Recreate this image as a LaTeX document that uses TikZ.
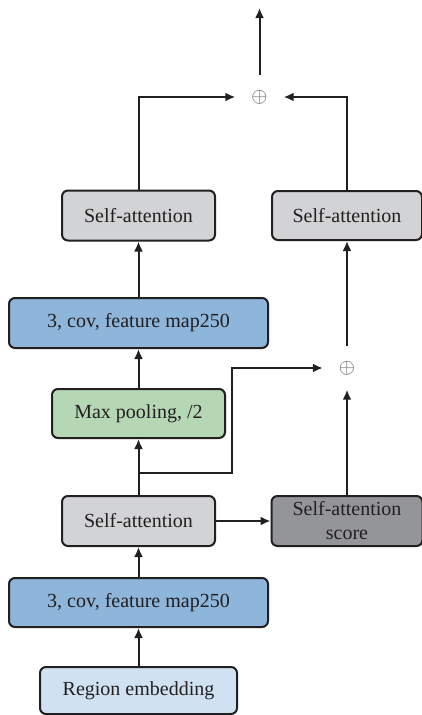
\documentclass[tikz,border=0pt]{standalone}
\usepackage{fontspec}
\setmainfont{Liberation Serif}
\usetikzlibrary{arrows.meta}
\definecolor{ink}{HTML}{231F20}
\definecolor{lgray}{HTML}{D1D3D4}
\definecolor{dgray}{HTML}{939598}
\definecolor{mblue}{HTML}{8DB6DA}
\definecolor{lblue}{HTML}{D0E2F1}
\definecolor{lgreen}{HTML}{B6D7B3}
\begin{document}
\begin{tikzpicture}[x=1pt,y=-1pt,
  blk/.style={draw=ink, line width=2pt, rounded corners=6pt, text=ink,
    font=\fontsize{20}{24}\selectfont, inner sep=0pt, align=center},
  arr/.style={draw=ink, line width=2pt, -{Latex[length=10pt,width=9pt]}},
  plus/.style={inner sep=0pt, minimum width=48pt, minimum height=43pt,
    text=ink!75, font=\fontsize{21}{21}\selectfont}]
\useasboundingbox (0,0) rectangle (422,715);
\node[blk, fill=lgray, minimum width=153pt, minimum height=50pt] (sa1) at (138.5,215.5) {Self-attention};
\node[blk, fill=lgray, minimum width=150pt, minimum height=49pt] (sa2) at (347,215.5) {Self-attention};
\node[blk, fill=mblue, minimum width=259pt, minimum height=50pt] (conv1) at (138.5,323) {3, cov, feature map250};
\node[blk, fill=lgreen, minimum width=173pt, minimum height=49pt] (mp) at (138.5,413.5) {Max pooling, /2};
\node[blk, fill=lgray, minimum width=153pt, minimum height=50pt] (sa3) at (138.5,521) {Self-attention};
\node[blk, fill=dgray, minimum width=151pt, minimum height=50pt] (score) at (347,521) {Self-attention\\score};
\node[blk, fill=mblue, minimum width=259pt, minimum height=49pt] (conv2) at (138.5,602.5) {3, cov, feature map250};
\node[blk, fill=lblue, minimum width=197pt, minimum height=47pt] (region) at (138.5,690.5) {Region embedding};
\node[plus] (p1) at (259.5,97) {$\oplus$};
\node[plus] (p2) at (347,368) {$\oplus$};
\coordinate (top) at (259.5,8);
\coordinate (br) at (138.5,473);
\coordinate (bx) at (232,368);
\draw[arr] (region.north) -- (conv2.south);
\draw[arr] (conv2.north) -- (sa3.south);
\draw[arr] (sa3.north) -- (mp.south);
\draw[arr] (br) -| (bx) -- (p2.west);
\draw[arr] (mp.north) -- (conv1.south);
\draw[arr] (conv1.north) -- (sa1.south);
\draw[arr] (sa1.north) |- (p1.west);
\draw[arr] (sa2.north) |- (p1.east);
\draw[arr] (p2.north) -- (sa2.south);
\draw[arr] (score.north) -- (p2.south);
\draw[arr] (sa3.east) -- (score.west);
\draw[arr] (p1.north) -- (top);
\end{tikzpicture}
\end{document}
